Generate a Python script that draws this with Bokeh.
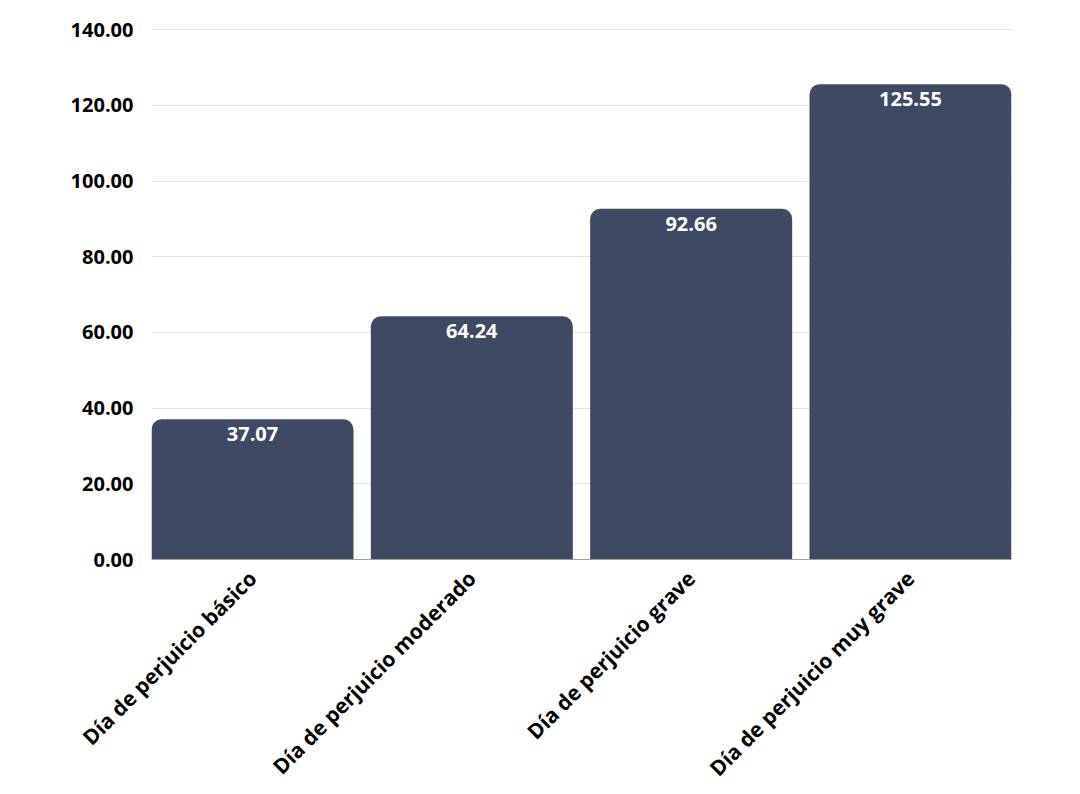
from bokeh.plotting import figure
from bokeh.models import ColumnDataSource, FixedTicker, CustomJSTickFormatter, LabelSet, Range1d
from bokeh.core.properties import value
from bokeh.embed import file_html
from bokeh.resources import INLINE
import math

categories = ["Día de perjuicio básico", "Día de perjuicio moderado",
              "Día de perjuicio grave", "Día de perjuicio muy grave"]
values = [37.07, 64.24, 92.66, 125.55]
value_labels = [f"{v:.2f}" for v in values]
y_ticks = [0, 20, 40, 60, 80, 100, 120, 140]

idx = list(range(len(categories)))
src = ColumnDataSource(dict(x=idx, cat=categories, val=values, lab=value_labels))

BAR_W = 0.921
p = figure(x_range=Range1d(-BAR_W / 2, len(categories) - 1 + BAR_W / 2),
           y_range=Range1d(0, 140.3), width=1064, height=794,
           output_backend="svg", toolbar_location=None,
           min_border_left=151, min_border_top=28, min_border_right=53, min_border_bottom=0)
p.outline_line_color = None
p.background_fill_color = "white"

p.vbar(x="x", top="val", width=BAR_W, source=src, fill_color="#3e4a64",
       line_color=None, border_radius=(10, 10, 0, 0))

labels = LabelSet(x="x", y="val", text="lab", source=src, y_offset=-8,
                  text_align="center", text_baseline="top", text_color="white",
                  text_font=value("Open Sans"), text_font_style="bold",
                  text_font_size="20px")
p.add_layout(labels)

p.yaxis.ticker = FixedTicker(ticks=y_ticks)
p.yaxis.formatter = CustomJSTickFormatter(code="return tick.toFixed(2);")
p.yaxis.axis_line_color = None
p.yaxis.major_tick_line_color = None
p.yaxis.minor_tick_line_color = None
p.yaxis.major_tick_out = 0
p.yaxis.major_label_standoff = 18
p.yaxis.major_label_text_font = "Open Sans"
p.yaxis.major_label_text_font_style = "bold"
p.yaxis.major_label_text_font_size = "20px"
p.yaxis.major_label_text_color = "black"

p.xaxis.ticker = FixedTicker(ticks=idx)
p.xaxis.major_label_overrides = {i: c for i, c in zip(idx, categories)}
p.xaxis.axis_line_color = "#9e9e9e"
p.xaxis.major_tick_line_color = None
p.xaxis.minor_tick_line_color = None
p.xaxis.major_tick_out = 0
p.xaxis.major_label_standoff = 15
p.xaxis.major_label_orientation = math.pi / 4
p.xaxis.major_label_text_font = "Open Sans"
p.xaxis.major_label_text_font_style = "bold"
p.xaxis.major_label_text_font_size = "21px"
p.xaxis.major_label_text_color = "black"

p.xgrid.grid_line_color = None
p.ygrid.grid_line_color = "#e2e2e2"
p.ygrid.grid_line_width = 1

open("out.html", "w").write(file_html(p, INLINE))
